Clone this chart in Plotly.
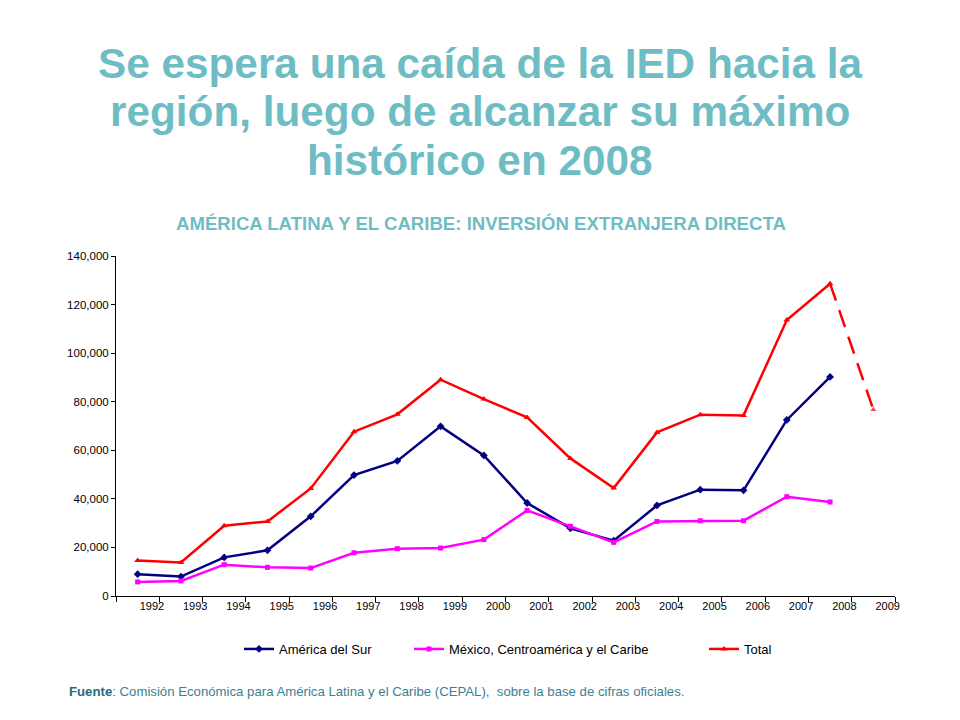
import plotly.graph_objects as go

years = list(range(1992, 2010))
sur = [9000, 8000, 15900, 18800, 32800, 49800, 55600, 69850, 57900, 38300,
       27850, 22800, 37300, 43800, 43500, 72500, 90200, None]
mexico = [5800, 6200, 12900, 11800, 11500, 17800, 19500, 19750, 23200, 35250,
          28700, 22100, 30700, 31000, 31000, 40900, 38700, None]
total = [14660, 13840, 28950, 30700, 44300, 67650, 74800, 89070, 81100, 73550,
         56660, 44470, 67370, 74660, 74370, 113650, 128600, 76700]
y_ticks = [0, 20000, 40000, 60000, 80000, 100000, 120000, 140000]
title_lines = ["Se espera una caída de la IED hacia la",
               "región, luego de alcanzar su máximo",
               "histórico en 2008"]

NAVY = "#000080"
MAG = "#FF00FF"
RED = "#FF0000"
TEAL = "#6FBDC4"
PAD = "\u00a0"

fig = go.Figure()
fig.add_trace(go.Scatter(x=years, y=sur, name="América del Sur" + PAD * 9,
                         mode="lines+markers",
                         line=dict(color=NAVY, width=2.5),
                         marker=dict(symbol="diamond", size=6, color=NAVY)))
fig.add_trace(go.Scatter(x=years, y=mexico,
                         name="México, Centroamérica y el Caribe" + PAD * 14,
                         mode="lines+markers",
                         line=dict(color=MAG, width=2.5),
                         marker=dict(symbol="square", size=5, color=MAG)))
fig.add_trace(go.Scatter(x=years[:-1], y=total[:-1], name="Total", mode="lines+markers",
                         line=dict(color=RED, width=2.5),
                         marker=dict(symbol="triangle-up", size=6, color=RED)))
# projection 2008 -> 2009 (dashed)
proj_x = years[-2:]
proj_y = total[-2:]
fig.add_trace(go.Scatter(x=proj_x, y=proj_y, mode="lines+markers", showlegend=False,
                         line=dict(color=RED, width=2.5, dash="18px,10px"),
                         marker=dict(symbol="triangle-up", size=[0, 7], color=RED)))

# page body has an 8px margin: plot area targeted at x 116..895, y 256..596
OFF = 8
L, R, T, B = 116, 895, 256, 596
W, Hh = 960 - OFF, 720 - OFF
label_offset = 0.33
fig.update_layout(
    width=W, height=Hh,
    paper_bgcolor="white", plot_bgcolor="white",
    margin=dict(l=L - OFF, r=W + OFF - R, t=T - OFF, b=Hh + OFF - B),
    font=dict(family="Arial, Liberation Sans, sans-serif", color="black"),
    showlegend=True,
    legend=dict(orientation="h", xanchor="center", yanchor="middle",
                font=dict(size=13, color="black"), itemwidth=30,
                traceorder="normal", bgcolor="rgba(0,0,0,0)"),
    xaxis=dict(range=[1991.5, 2009.5], showgrid=False, zeroline=False,
               showline=True, linecolor="black", linewidth=1,
               tickmode="array", tickvals=[y + label_offset for y in years],
               ticktext=[str(y) for y in years], ticks="",
               tickfont=dict(size=11, color="black"),
               minor=dict(tickmode="array", tickvals=[y - 0.5 for y in years] + [years[-1] + 0.5],
                          ticks="outside", ticklen=5, tickcolor="black", tickwidth=1)),
    yaxis=dict(range=[0, 140000], showgrid=False, zeroline=False,
               showline=True, linecolor="black", linewidth=1,
               tickmode="array", tickvals=y_ticks,
               ticktext=[f"{v:,}" for v in y_ticks],
               ticks="outside", ticklen=4, tickcolor="black",
               tickfont=dict(size=11.5, color="black")),
)

H = B - T
PW = R - L
for line, ypix in zip(title_lines, [63, 111, 160]):
    fig.add_annotation(xref="paper", yref="paper", x=(480 - L) / PW, y=1 + (T - ypix) / H,
                       xanchor="center", yanchor="middle", text=f"<b>{line}</b>",
                       showarrow=False, font=dict(size=42.3, color=TEAL))
fig.add_annotation(xref="paper", yref="paper", x=(481 - L) / PW, y=1 + (T - 224) / H,
                   xanchor="center", yanchor="middle",
                   text="<b>AMÉRICA LATINA Y EL CARIBE: INVERSIÓN EXTRANJERA DIRECTA</b>",
                   showarrow=False, font=dict(size=18.6, color=TEAL))
fig.add_annotation(xref="paper", yref="paper", x=(67 - L) / PW, y=-(691 - B) / H,
                   xanchor="left", yanchor="middle",
                   text="<span style='color:#2A6A80'><b>Fuente</b></span>: Comisión Económica para América Latina y el Caribe (CEPAL),  sobre la base de cifras oficiales.",
                   showarrow=False, font=dict(size=13.2, color="#3C7F95"))
fig.update_layout(legend=dict(x=(508 - L) / PW, y=-(649 - B) / H))

fig.write_html("out.html")
